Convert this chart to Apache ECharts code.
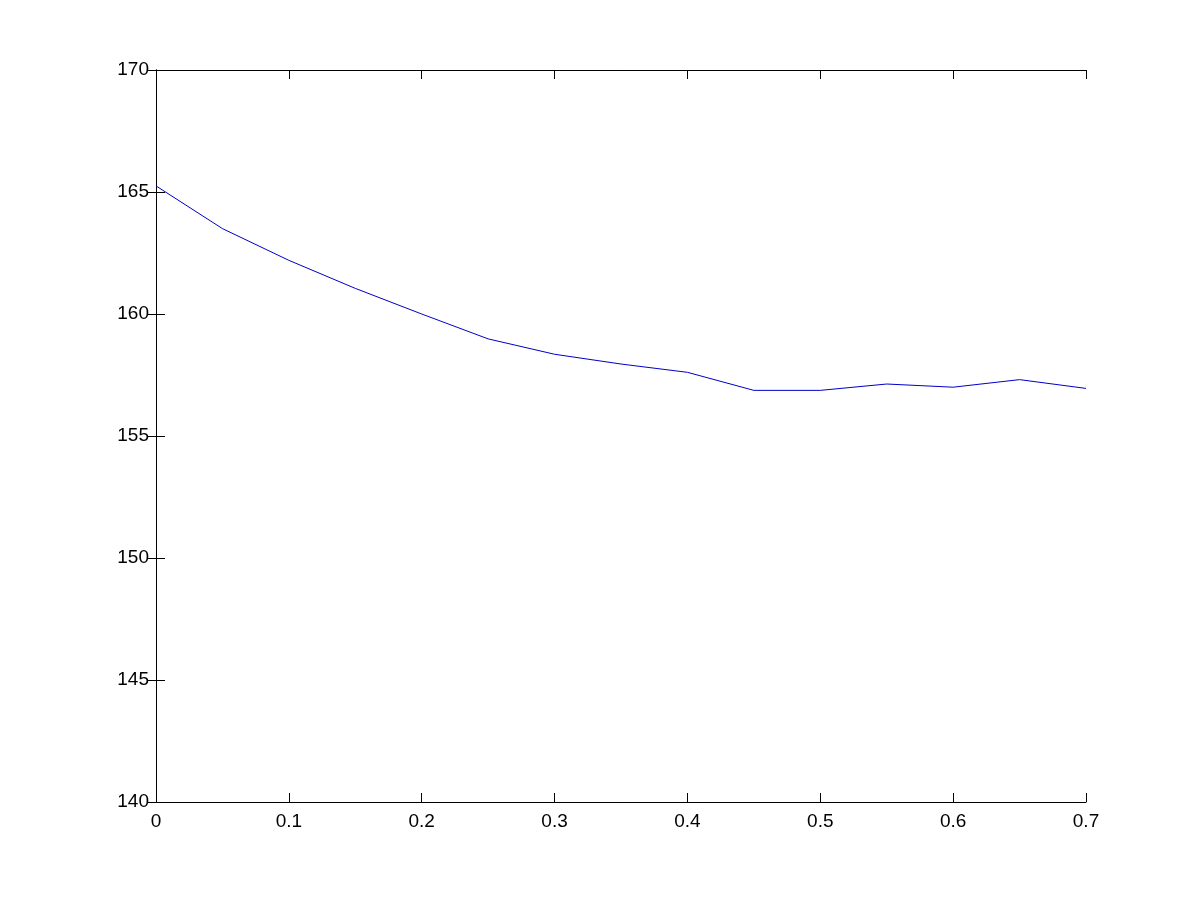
<!DOCTYPE html>
<html>
<head>
<meta charset="utf-8">
<script src="https://cdn.jsdelivr.net/npm/echarts@6/dist/echarts.min.js"></script>
<style>html,body{margin:0;padding:0;background:#fff;}#c{width:1200px;height:901px;}</style>
</head>
<body>
<div id="c"></div>
<script>
const xValues = [0, 0.05, 0.1, 0.15, 0.2, 0.25, 0.3, 0.35, 0.4, 0.45, 0.5, 0.55, 0.6, 0.65, 0.7];
const yValues = [165.25, 163.5, 162.2, 161.05, 160.0, 158.98, 158.35, 157.95, 157.61, 156.87, 156.87, 157.13, 157.0, 157.31, 156.95];
const xTicks = {min: 0, max: 0.7, interval: 0.1};
const yTicks = {min: 140, max: 170, interval: 5};

const chart = echarts.init(document.getElementById('c'), null, {renderer: 'canvas'});
const font = {color: '#000', fontSize: 19, fontFamily: 'Liberation Sans, Arial, sans-serif'};
const axLine = {show: true, lineStyle: {color: '#000', width: 1}};
const tick = {show: true, inside: true, length: 9, lineStyle: {color: '#000', width: 1}};
chart.setOption({
  animation: false,
  backgroundColor: '#fff',
  grid: {left: 156, top: 70, right: 114, bottom: 99, containLabel: false},
  xAxis: [
    {type: 'value', min: xTicks.min, max: xTicks.max, interval: xTicks.interval, position: 'bottom',
     axisLine: axLine, axisTick: tick, splitLine: {show: false},
     axisLabel: Object.assign({margin: 10}, font)},
    {type: 'value', min: xTicks.min, max: xTicks.max, interval: xTicks.interval, position: 'top',
     axisLine: axLine, axisTick: tick, splitLine: {show: false}, axisLabel: {show: false}}
  ],
  yAxis: [
    {type: 'value', min: yTicks.min, max: yTicks.max, interval: yTicks.interval, position: 'left',
     axisLine: axLine, axisTick: tick, splitLine: {show: false},
     axisLabel: Object.assign({margin: 7}, font)},
    {type: 'value', min: yTicks.min, max: yTicks.max, interval: yTicks.interval, position: 'right',
     axisLine: axLine, axisTick: tick, splitLine: {show: false}, axisLabel: {show: false}}
  ],
  series: [{
    type: 'line',
    data: xValues.map((x, i) => [x, yValues[i]]),
    xAxisIndex: 0, yAxisIndex: 0,
    showSymbol: false,
    lineStyle: {color: '#0000c8', width: 1},
    itemStyle: {color: '#0000c8'}
  }]
});
</script>
</body>
</html>
